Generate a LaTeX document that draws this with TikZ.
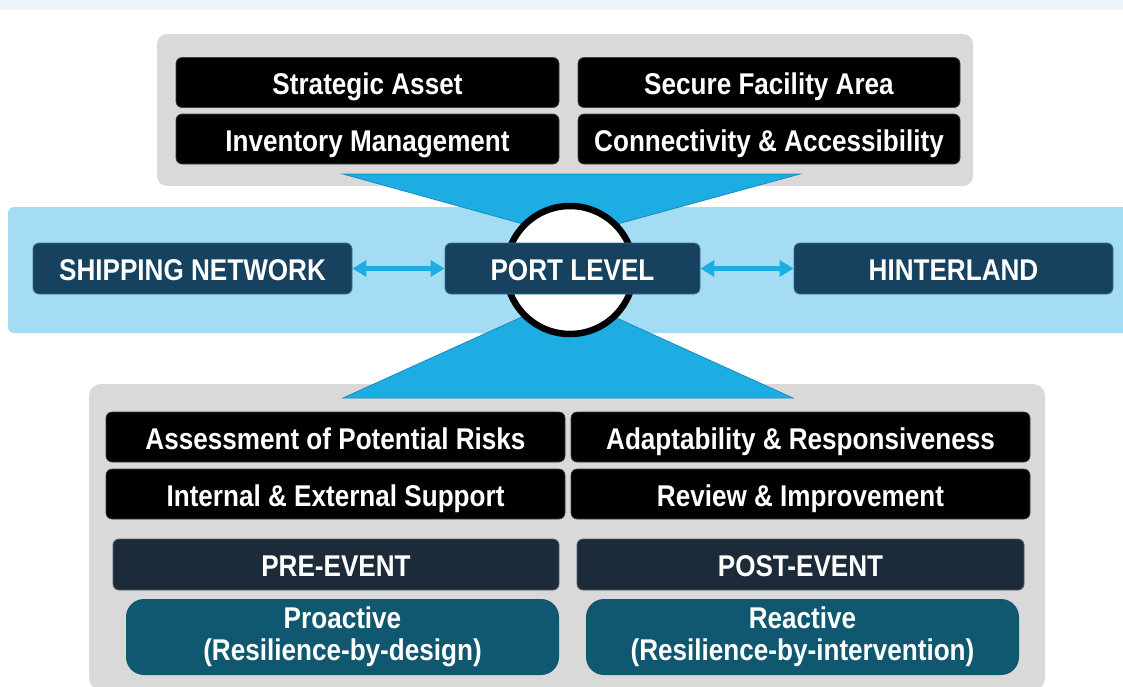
\documentclass[tikz,border=0pt]{standalone}
\usepackage{fontspec}
\setmainfont[FakeStretch=0.87]{Liberation Sans}
\usetikzlibrary{arrows.meta}
\definecolor{topstrip}{HTML}{EEF4FC}
\definecolor{panelgray}{HTML}{D9D9D9}
\definecolor{bandblue}{HTML}{A4DDF3}
\definecolor{skyblue}{HTML}{1EADE3}
\definecolor{skyedge}{HTML}{1A8CC0}
\definecolor{navy}{HTML}{16415F}
\definecolor{navyedge}{HTML}{3A7399}
\definecolor{slate}{HTML}{1C2B3A}
\definecolor{slateedge}{HTML}{56616D}
\definecolor{teal}{HTML}{0F5870}
\tikzset{
  boxtext/.style={text=white, font=\fontsize{30}{32}\selectfont\bfseries, inner sep=0pt, align=center},
  blackbox/.style={boxtext, fill=black, draw=black!75, line width=0.6pt, rounded corners=6pt, minimum height=50pt, text height=24pt, text depth=0pt},
  navybox/.style={boxtext, fill=navy, draw=navyedge, line width=0.8pt, rounded corners=6pt, minimum width=319pt, minimum height=51pt, text height=24pt, text depth=0pt},
  slatebox/.style={boxtext, fill=slate, draw=slateedge, line width=0.8pt, rounded corners=6pt, minimum height=51pt, text height=24pt, text depth=0pt},
  tealbox/.style={boxtext, fill=teal, rounded corners=18pt, minimum width=433pt, minimum height=76pt},
  linkarrow/.style={draw=skyblue, line width=4.5pt, {Triangle[length=14pt,width=16pt]}-{Triangle[length=14pt,width=16pt]}},
  funnel/.style={fill=skyblue, draw=skyedge, line width=0.8pt},
}
\begin{document}
\begin{tikzpicture}[x=1pt, y=-1pt]
\useasboundingbox (0,0) rectangle (1123,686);
% top strip
\fill[topstrip] (0,0) rectangle (1123,10);
% panels
\fill[panelgray, rounded corners=10pt] (157,34) rectangle (973,186);
\fill[panelgray, rounded corners=12pt] (89,384) rectangle (1045,690);
% band
\fill[bandblue, rounded corners=6pt] (8,207) rectangle (1130,333);
% funnels
\filldraw[funnel] (343,174) -- (800,174) -- (570,237) -- cycle;
\filldraw[funnel] (343,398) -- (793,398) -- (568,296) -- cycle;
% circle
\node[circle, fill=white, draw=black, line width=6.5pt, minimum size=128pt, inner sep=0pt] (hub) at (570,270) {};
% top boxes
\node[blackbox, minimum width=383pt] (sa) at (367.5,82.5) {Strategic Asset};
\node[blackbox, minimum width=382pt] (sf) at (769,82.5) {Secure Facility Area};
\node[blackbox, minimum width=383pt] (im) at (367.5,139) {Inventory Management};
\node[blackbox, minimum width=382pt] (ca) at (769,139) {Connectivity \& Accessibility};
% band nodes
\node[navybox] (sn) at (192.5,268.5) {SHIPPING NETWORK};
\node[navybox, minimum width=255pt] (pl) at (572.5,268.5) {PORT LEVEL};
\node[navybox] (hl) at (953.5,268.5) {HINTERLAND};
\draw[linkarrow] (sn.east) -- (pl.west);
\draw[linkarrow] (pl.east) -- (hl.west);
% bottom boxes
\node[blackbox, minimum width=459pt] (ar) at (335.5,437) {Assessment of Potential Risks};
\node[blackbox, minimum width=459pt] (ie) at (335.5,494) {Internal \& External Support};
\node[blackbox, minimum width=459pt] (adr) at (800.5,437) {Adaptability \& Responsiveness};
\node[blackbox, minimum width=459pt] (ri) at (800.5,494) {Review \& Improvement};
\node[slatebox, minimum width=446pt] (pre) at (336,564.5) {PRE-EVENT};
\node[slatebox, minimum width=447pt] (post) at (800.5,564.5) {POST-EVENT};
\node[tealbox] (pro) at (342.5,637) {Proactive\\(Resilience-by-design)};
\node[tealbox] (rea) at (802.5,637) {Reactive\\(Resilience-by-intervention)};
\end{tikzpicture}
\end{document}
